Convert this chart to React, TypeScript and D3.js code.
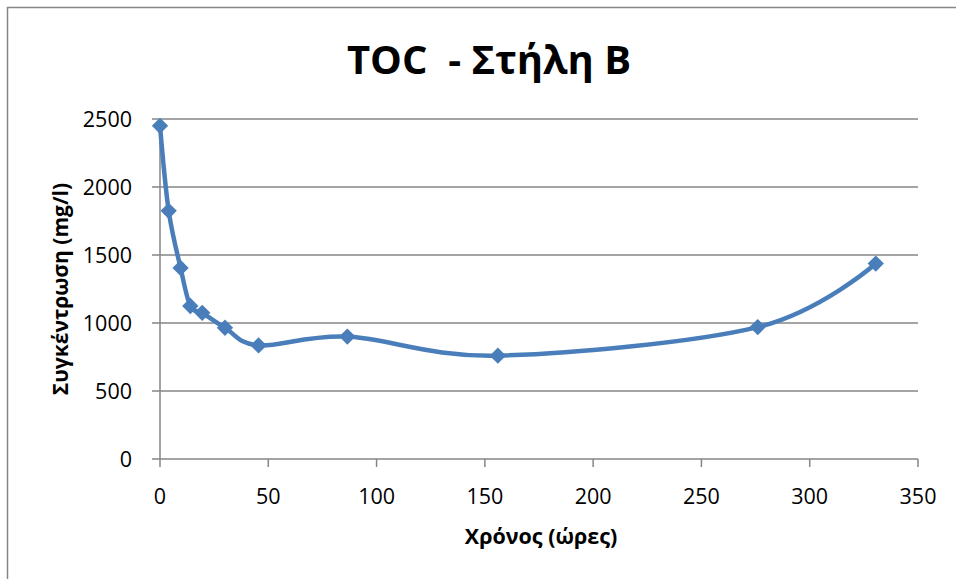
import React from 'react';
import * as d3 from 'd3';

const width = 956;
const height = 579;
const margin = { top: 119, right: 38, bottom: 120, left: 160 };

// hours since start
const hours: number[] = [0, 4, 9.5, 14, 19.5, 30, 45.5, 86.5, 156, 276, 330.5];
// TOC concentration (mg/l)
const toc: number[] = [2450, 1825, 1405, 1125, 1075, 965, 835, 900, 760, 970, 1437];

const xTicks: number[] = [0, 50, 100, 150, 200, 250, 300, 350];
const yTicks: number[] = [0, 500, 1000, 1500, 2000, 2500];

const title = 'TOC  - Στήλη Β';
const xTitle = 'Χρόνος (ώρες)';
const yTitle = 'Συγκέντρωση (mg/l)';

const font = '"Open Sans", sans-serif';
const blue = '#4a7ebb';

const Chart = () => {
    const x = d3.scaleLinear().domain([0, 350]).range([margin.left, width - margin.right]);
    const y = d3.scaleLinear().domain([0, 2500]).range([height - margin.bottom, margin.top]);

    const points: [number, number][] = hours.map((h, i) => [x(h), y(toc[i])]);
    const line = d3.line().curve(d3.curveCardinal.tension(0))(points) || '';
    const diamond = d3.symbol().type(d3.symbolDiamond2).size(170)() || '';

    const x0 = x(0);
    const y0 = y(0);

    return (
        <svg width={width} height={height}
            style={{ position: 'absolute', left: 0, top: 0, background: '#fff' }}>
            <rect x={7.5} y={7.5} width={1000} height={1000} fill="#fff" stroke="#868686" strokeWidth={1.5} />

            <text x={489} y={74} textAnchor="middle" fontFamily={font} fontWeight="bold"
                fontSize={40} style={{ whiteSpace: 'pre' }} fill="#000">{title}</text>

            {yTicks.map(t => (
                <g key={'y' + t}>
                    <line x1={x0 - 8} x2={x(350)} y1={y(t)} y2={y(t)} stroke="#868686" strokeWidth={1.5} />
                    <text x={x0 - 28} y={y(t)} dy="0.35em" textAnchor="end" fontFamily={font}
                        fontSize={21.5} fill="#000">{t}</text>
                </g>
            ))}

            <line x1={x0} x2={x0} y1={y(2500)} y2={y0} stroke="#868686" strokeWidth={1.5} />
            {xTicks.map(t => (
                <g key={'x' + t}>
                    <line x1={x(t)} x2={x(t)} y1={y0} y2={y0 + 8} stroke="#868686" strokeWidth={1.5} />
                    <text x={x(t)} y={496} dy="0.35em" textAnchor="middle" fontFamily={font}
                        fontSize={21.5} fill="#000">{t}</text>
                </g>
            ))}

            <text x={541} y={536} dy="0.35em" textAnchor="middle" fontFamily={font}
                fontWeight="bold" fontSize={21.5} fill="#000">{xTitle}</text>
            <text transform={`translate(61,${(y0 + y(2500)) / 2}) rotate(-90)`} dy="0.35em"
                textAnchor="middle" fontFamily={font} fontWeight="bold" fontSize={21}
                fill="#000">{yTitle}</text>

            <path d={line} fill="none" stroke={blue} strokeWidth={4.5} strokeLinejoin="round" />
            {points.map((p, i) => (
                <path key={i} d={diamond} transform={`translate(${p[0]},${p[1]})`} fill={blue} />
            ))}
        </svg>
    );
};

export const App = () => <Chart />;

export default App;
